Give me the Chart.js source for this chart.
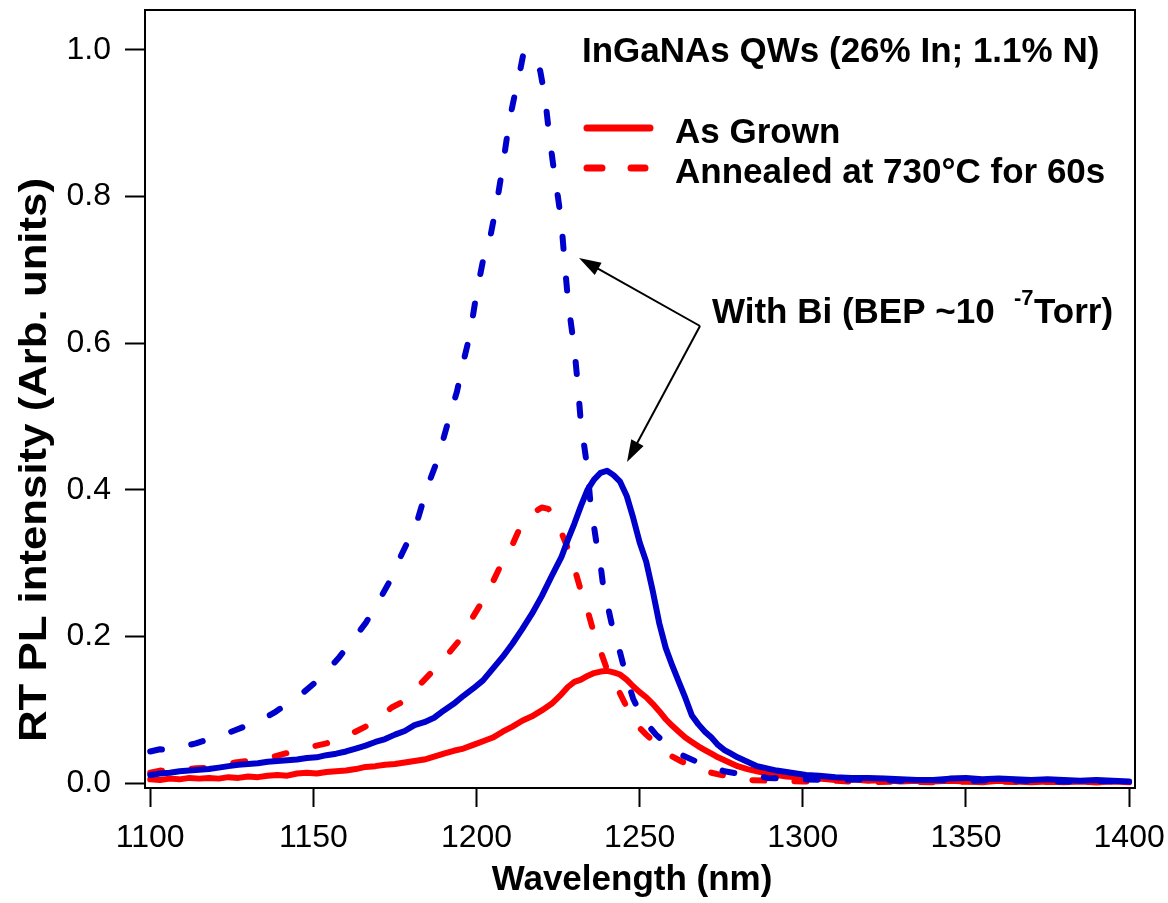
<!DOCTYPE html>
<html>
<head>
<meta charset="utf-8">
<title>RT PL spectra</title>
<script src="https://cdn.jsdelivr.net/npm/chart.js@4.4.1/dist/chart.umd.min.js"></script>
<style>
  html, body { margin: 0; padding: 0; background: #fff; }
  canvas { display: block; }
</style>
</head>
<body>
<canvas id="plChart" width="1168" height="903"></canvas>
<script>
// --- spectra (wavelength in nm, PL intensity normalised) ---
const asGrownWl = [1100,1103,1106,1109,1112,1115,1118,1121,1124,1127,1130,1133,1136,1139,1142,1145,1148,1151,1154,1157,1160,1163,1166,1169,1172,1175,1178,1181,1184,1187,1190,1193,1196,1199,1202,1205,1208,1211,1214,1217,1220,1223,1226,1228,1230,1232,1234,1236,1238,1240,1242,1244,1246,1248,1250,1252,1254,1256,1258,1260,1262,1264,1266,1268,1270,1272,1274,1276,1278,1280,1283,1286,1289,1292,1295,1298,1301,1305,1310,1315,1320,1325,1330,1335,1340,1345,1350,1355,1360,1365,1370,1375,1380,1385,1390,1395,1400];
const asGrownPl = [0.005,0.004,0.006,0.005,0.007,0.006,0.007,0.006,0.008,0.007,0.009,0.008,0.010,0.011,0.010,0.013,0.014,0.013,0.015,0.016,0.017,0.019,0.022,0.023,0.025,0.026,0.028,0.030,0.032,0.036,0.040,0.044,0.047,0.052,0.057,0.062,0.070,0.077,0.085,0.091,0.099,0.108,0.121,0.131,0.138,0.141,0.146,0.150,0.152,0.153,0.151,0.148,0.141,0.132,0.124,0.117,0.108,0.098,0.087,0.078,0.070,0.062,0.056,0.050,0.045,0.040,0.035,0.031,0.027,0.023,0.019,0.016,0.013,0.011,0.009,0.008,0.007,0.006,0.004,0.005,0.003,0.004,0.002,0.003,0.002,0.003,0.002,0.001,0.003,0.002,0.001,0.002,0.001,0.002,0.001,0.002,0.001];

const annealedWl = [1100,1103,1106,1110,1114,1118,1122,1126,1130,1134,1138,1142,1146,1150,1154,1158,1162,1166,1170,1174,1177,1180,1183,1186,1189,1192,1195,1198,1201,1204,1207,1210,1213,1216,1218,1220,1222,1224,1226,1228,1230,1232,1234,1236,1238,1240,1242,1244,1246,1248,1250,1252,1254,1256,1258,1260,1263,1266,1269,1272,1276,1280,1284,1290,1300,1310,1320,1330,1340,1350,1360,1370,1380,1390,1400];
const annealedPl = [0.014,0.017,0.016,0.018,0.020,0.021,0.024,0.028,0.030,0.033,0.036,0.041,0.045,0.050,0.054,0.060,0.068,0.077,0.088,0.103,0.110,0.120,0.136,0.150,0.163,0.180,0.196,0.220,0.242,0.265,0.293,0.315,0.345,0.364,0.370,0.376,0.374,0.362,0.342,0.320,0.293,0.262,0.236,0.204,0.180,0.155,0.140,0.122,0.104,0.088,0.075,0.066,0.058,0.050,0.042,0.036,0.029,0.024,0.018,0.014,0.010,0.008,0.004,0.003,0.002,0.003,0.001,0.002,0.001,0.002,0.002,0.001,0.002,0.001,0.001];

const biGrownWl = [1100,1103,1106,1109,1112,1115,1118,1121,1124,1127,1130,1133,1136,1139,1142,1145,1148,1151,1154,1157,1160,1163,1166,1169,1172,1175,1178,1181,1184,1187,1190,1193,1196,1199,1202,1205,1208,1211,1214,1217,1220,1223,1226,1228,1230,1232,1234,1236,1238,1240,1242,1244,1246,1248,1250,1252,1254,1256,1258,1260,1262,1264,1266,1268,1270,1272,1274,1276,1278,1280,1283,1286,1289,1292,1295,1298,1301,1305,1310,1315,1320,1325,1330,1335,1340,1345,1350,1355,1360,1365,1370,1375,1380,1385,1390,1395,1400];
const biGrownPl = [0.011,0.013,0.014,0.016,0.017,0.018,0.019,0.021,0.023,0.025,0.026,0.027,0.029,0.030,0.031,0.032,0.034,0.035,0.038,0.040,0.043,0.047,0.051,0.056,0.060,0.066,0.071,0.079,0.083,0.089,0.099,0.108,0.119,0.129,0.140,0.156,0.172,0.190,0.210,0.231,0.255,0.282,0.308,0.332,0.354,0.378,0.400,0.414,0.423,0.426,0.420,0.411,0.392,0.362,0.328,0.302,0.262,0.218,0.184,0.160,0.138,0.116,0.092,0.080,0.070,0.062,0.052,0.045,0.040,0.035,0.029,0.023,0.020,0.017,0.015,0.013,0.011,0.010,0.008,0.007,0.007,0.006,0.005,0.004,0.004,0.006,0.007,0.005,0.006,0.005,0.004,0.005,0.004,0.003,0.004,0.003,0.002];

const biAnnealedWl = [1100,1103,1106,1110,1114,1118,1122,1126,1130,1134,1138,1142,1146,1150,1154,1158,1162,1166,1170,1173,1176,1179,1182,1185,1188,1191,1194,1196,1198,1200,1202,1204,1206,1208,1210,1212,1213.5,1214.5,1216,1218,1219.5,1221,1222,1223,1224,1225,1226,1227,1228,1229,1230,1231,1232,1233,1234,1235,1236,1237,1238,1239,1240,1242,1244,1246,1248,1250,1252,1255,1259,1263,1268,1272,1276,1280,1285,1289,1295,1300,1310,1320,1330,1340,1350,1360,1370,1380,1390,1400];
const biAnnealedPl = [0.043,0.046,0.045,0.050,0.054,0.060,0.065,0.072,0.079,0.086,0.096,0.108,0.120,0.135,0.152,0.172,0.195,0.218,0.248,0.272,0.302,0.330,0.360,0.405,0.440,0.488,0.534,0.575,0.612,0.668,0.713,0.740,0.786,0.840,0.902,0.945,0.975,0.998,0.990,0.980,0.972,0.935,0.895,0.860,0.826,0.798,0.765,0.710,0.660,0.625,0.592,0.545,0.490,0.460,0.428,0.378,0.350,0.320,0.298,0.262,0.246,0.205,0.178,0.143,0.115,0.097,0.082,0.066,0.050,0.038,0.028,0.022,0.016,0.013,0.012,0.007,0.006,0.005,0.004,0.005,0.003,0.004,0.003,0.004,0.003,0.002,0.003,0.002];

const xTicks = [1100, 1150, 1200, 1250, 1300, 1350, 1400];
const yTicks = [0.0, 0.2, 0.4, 0.6, 0.8, 1.0];

const RED = '#ff0000';
const BLUE = '#0000cc';
const FONT = "'Liberation Sans', Arial, sans-serif";

function toPoints(wl, pl) {
  return wl.map((w, i) => ({ x: w, y: pl[i] }));
}

function arrow(ctx, x1, y1, x2, y2) {
  const ang = Math.atan2(y2 - y1, x2 - x1);
  const len = 22, half = 7;
  ctx.beginPath();
  ctx.moveTo(x1, y1);
  ctx.lineTo(x2 - Math.cos(ang) * len * 0.8, y2 - Math.sin(ang) * len * 0.8);
  ctx.stroke();
  ctx.beginPath();
  ctx.moveTo(x2, y2);
  ctx.lineTo(x2 - Math.cos(ang) * len + Math.sin(ang) * half, y2 - Math.sin(ang) * len - Math.cos(ang) * half);
  ctx.lineTo(x2 - Math.cos(ang) * len - Math.sin(ang) * half, y2 - Math.sin(ang) * len + Math.cos(ang) * half);
  ctx.closePath();
  ctx.fill();
}

// frame, legend, notes and axis titles
const decorations = {
  id: 'decorations',
  afterDraw(chart) {
    const { ctx, chartArea: a } = chart;
    ctx.save();
    ctx.strokeStyle = '#000';
    ctx.lineWidth = 2;
    ctx.strokeRect(a.left, a.top, a.right - a.left, a.bottom - a.top);

    ctx.fillStyle = '#000';
    ctx.textBaseline = 'alphabetic';
    ctx.textAlign = 'left';
    ctx.font = 'bold 35px ' + FONT;
    ctx.fillText('InGaNAs QWs (26% In; 1.1% N)', 582, 62);
    ctx.fillText('As Grown', 675, 143);
    ctx.fillText('Annealed at 730°C for 60s', 675, 183);
    ctx.fillText('With Bi (BEP ~10', 712, 323);
    ctx.fillText('Torr)', 1034, 323);
    ctx.font = 'bold 22px ' + FONT;
    ctx.fillText('-7', 1014, 305);

    // legend samples
    ctx.strokeStyle = RED;
    ctx.lineWidth = 7;
    ctx.lineCap = 'round';
    ctx.beginPath();
    ctx.moveTo(587, 128); ctx.lineTo(650, 128);
    ctx.stroke();
    ctx.setLineDash([15, 29]);
    ctx.beginPath();
    ctx.moveTo(587, 168); ctx.lineTo(645, 168);
    ctx.stroke();
    ctx.setLineDash([]);

    // arrows to the Bi curves
    ctx.strokeStyle = '#000';
    ctx.fillStyle = '#000';
    ctx.lineWidth = 2;
    ctx.lineCap = 'butt';
    arrow(ctx, 700, 326, 579, 258);
    arrow(ctx, 700, 326, 627, 462);

    // axis titles
    ctx.font = 'bold 35px ' + FONT;
    ctx.textAlign = 'center';
    ctx.fillText('Wavelength (nm)', 632, 890);

    ctx.save();
    ctx.translate(46, 460);
    ctx.rotate(-Math.PI / 2);
    ctx.font = 'bold 38px ' + FONT;
    const yTitle = 'RT PL intensity (Arb. units)';
    const sx = 564 / ctx.measureText(yTitle).width;
    ctx.scale(sx, 1);
    ctx.fillText(yTitle, 0, 0);
    ctx.restore();
    ctx.restore();
  }
};

function lineSet(label, wl, pl, color, dashed, order) {
  return {
    label,
    data: toPoints(wl, pl),
    borderColor: color,
    borderWidth: 6,
    borderCapStyle: 'round',
    borderJoinStyle: 'round',
    borderDash: dashed ? [12, 30] : [],
    pointRadius: 0,
    fill: false,
    tension: 0,
    order
  };
}

new Chart(document.getElementById('plChart'), {
  type: 'line',
  data: {
    datasets: [
      lineSet('As Grown', asGrownWl, asGrownPl, RED, false, 2),
      lineSet('Annealed at 730°C for 60s', annealedWl, annealedPl, RED, true, 2),
      lineSet('With Bi, as grown', biGrownWl, biGrownPl, BLUE, false, 1),
      lineSet('With Bi, annealed', biAnnealedWl, biAnnealedPl, BLUE, true, 1)
    ]
  },
  options: {
    responsive: false,
    animation: false,
    devicePixelRatio: 1,
    layout: { padding: { left: 0, top: 10, right: 33, bottom: 0 } },
    plugins: { legend: { display: false }, tooltip: { enabled: false } },
    scales: {
      x: {
        type: 'linear',
        min: 1098.4,
        max: 1401.8,
        afterBuildTicks: s => { s.ticks = xTicks.map(v => ({ value: v })); },
        afterFit: s => {
          s.height = 115;
          s.paddingLeft = 0;
          s.paddingRight = 0;
        },
        grid: { drawOnChartArea: false, tickLength: 19, tickWidth: 2, tickColor: '#000' },
        border: { display: true, color: '#000', width: 2 },
        ticks: {
          color: '#000',
          font: { family: FONT, size: 32 },
          padding: 12,
          maxRotation: 0,
          autoSkip: false,
          callback: v => String(v)
        }
      },
      y: {
        type: 'linear',
        min: -0.0068,
        max: 1.0545,
        afterBuildTicks: s => { s.ticks = yTicks.map(v => ({ value: v })); },
        afterFit: s => {
          s.width = 145;
          s.paddingTop = 0;
          s.paddingBottom = 0;
        },
        grid: { drawOnChartArea: false, tickLength: 20, tickWidth: 2, tickColor: '#000' },
        border: { display: true, color: '#000', width: 2 },
        ticks: {
          color: '#000',
          font: { family: FONT, size: 32 },
          padding: 14,
          autoSkip: false,
          callback: v => v.toFixed(1)
        }
      }
    }
  },
  plugins: [decorations]
});
</script>
</body>
</html>
